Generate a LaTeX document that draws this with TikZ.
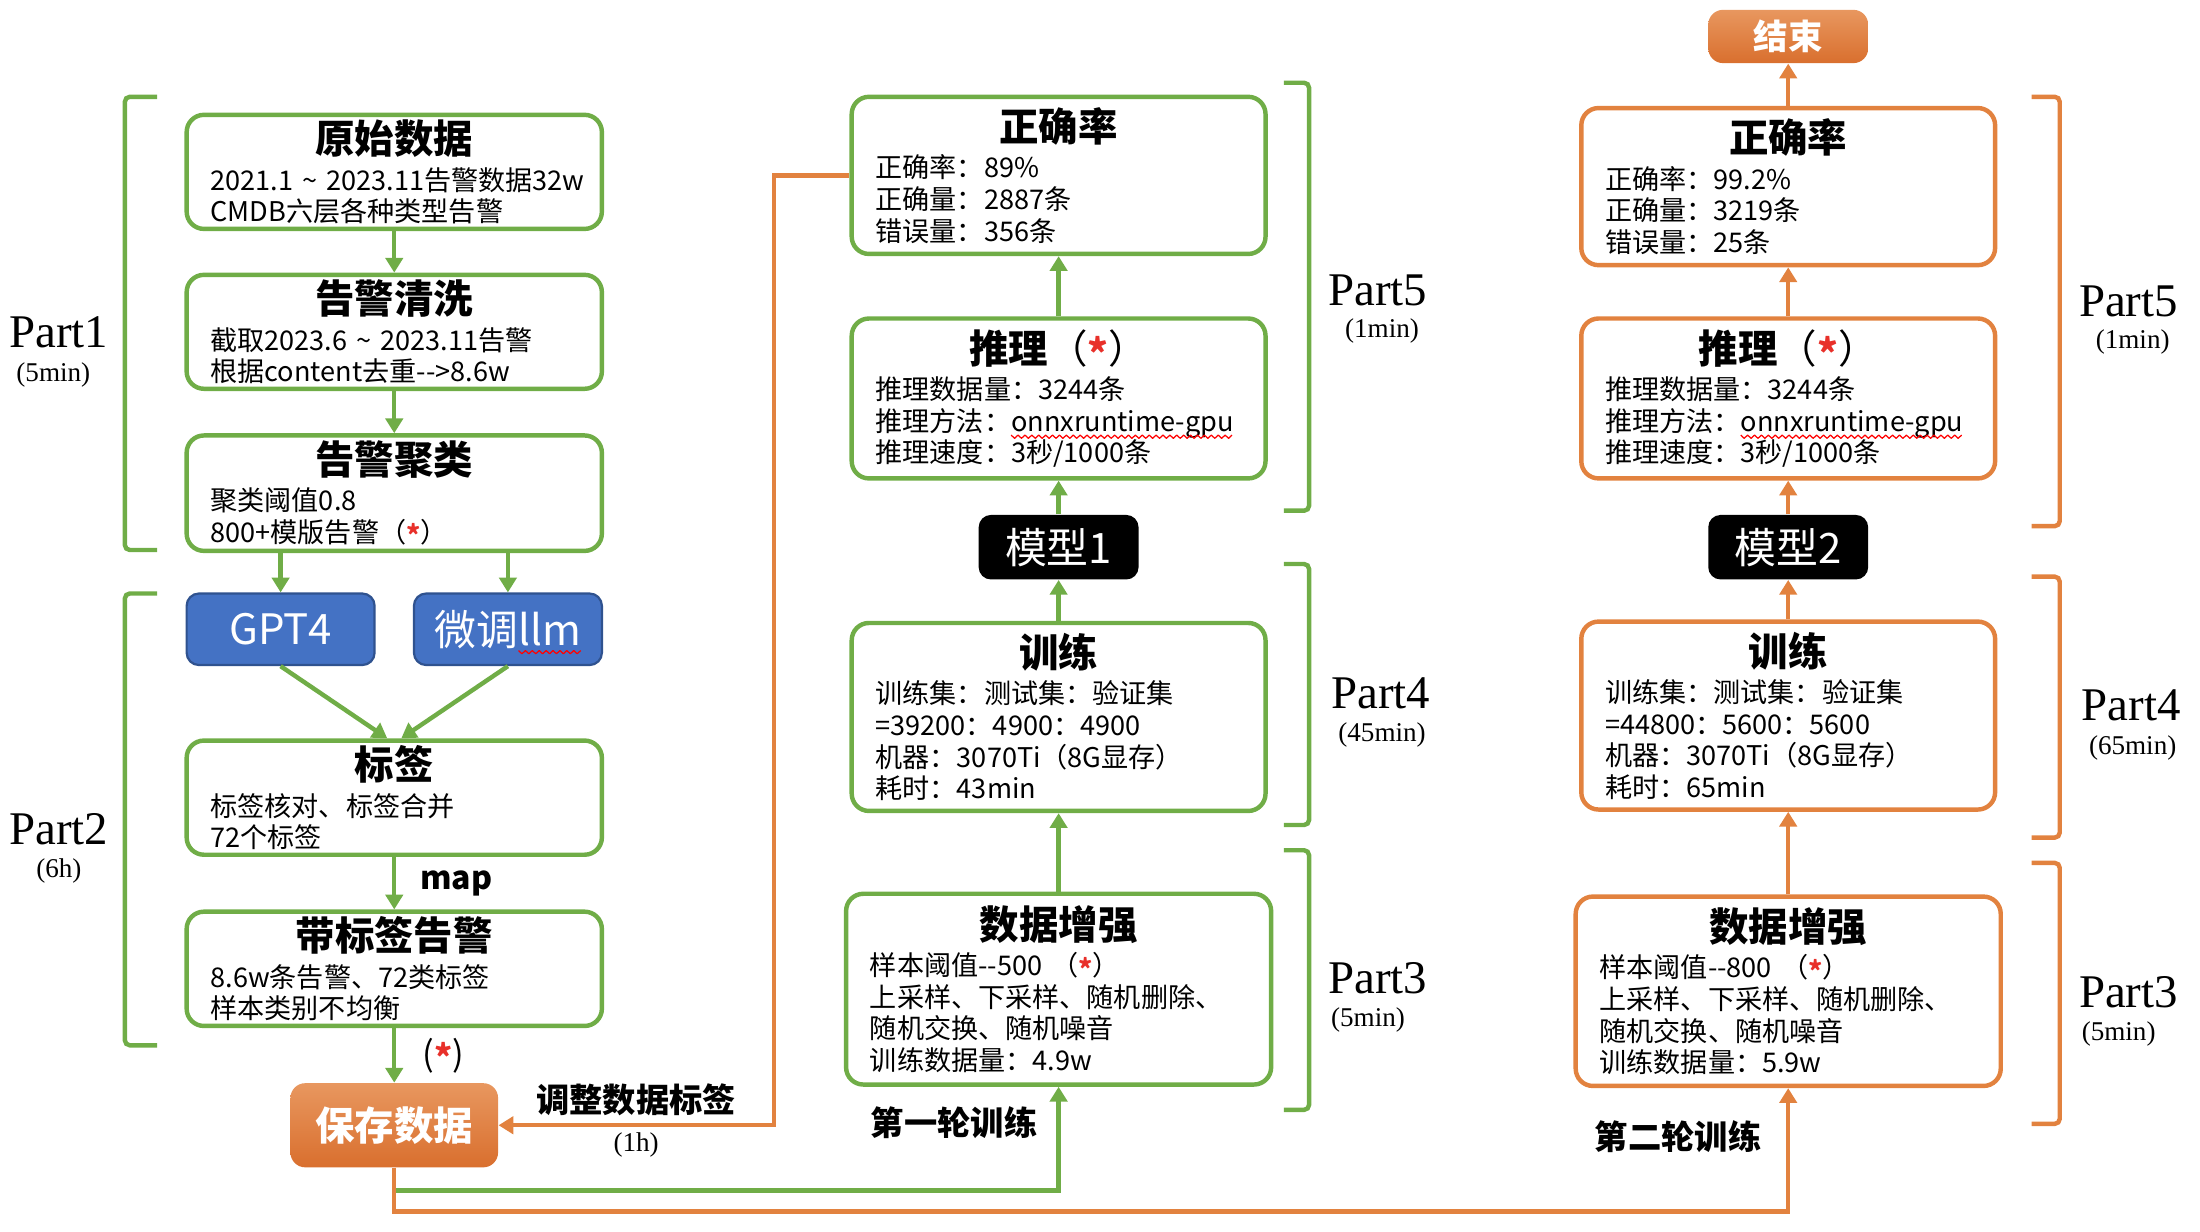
\documentclass[tikz,border=0pt]{standalone}
\usepackage{fontspec}
\setmainfont{Noto Sans CJK SC}
\newfontfamily\partfont{Liberation Serif}
\usepackage{xcolor}
\usetikzlibrary{arrows.meta, positioning}
\definecolor{greencol}{HTML}{70AD47}
\definecolor{orangecol}{HTML}{E2823F}
\definecolor{orangetop}{HTML}{E8975F}
\definecolor{orangebot}{HTML}{D96F2E}
\definecolor{bluecol}{HTML}{4472C4}
\definecolor{bluedark}{HTML}{2F528F}
\definecolor{starcol}{HTML}{E8302A}
\newcommand{\bodyfont}{\fontsize{11}{12.8}\selectfont}
\newcommand{\llmfont}{\fontsize{17}{20}\selectfont}
\newcommand{\boxtitle}[1]{\makebox[\linewidth]{\fontsize{16}{18}\selectfont\bfseries #1}}
\newcommand{\redstar}{\textcolor{starcol}{\raisebox{-0.25ex}{\bfseries *}}}
\newlength{\onnxpre}
\newlength{\onnxwd}
\newlength{\llmpre}
\newlength{\llmwd}

\begin{document}
\settowidth{\onnxpre}{\bodyfont 推理方法：}%
\settowidth{\onnxwd}{\bodyfont onnxruntime-gpu}%
\settowidth{\llmpre}{\llmfont 微调}%
\settowidth{\llmwd}{\llmfont llm}%
\begin{tikzpicture}[
    x=0.02cm, y=-0.02cm,
    box/.style={rectangle, rounded corners=7pt, line width=1.8pt, align=left,
                inner xsep=0.34cm, inner ysep=2pt, font=\bodyfont},
    greenbox/.style={box, draw=greencol},
    orangebox/.style={box, draw=orangecol},
    llmbox/.style={rectangle, rounded corners=5pt, fill=bluecol, draw=bluedark,
                   line width=0.9pt, text=white, font=\llmfont,
                   minimum width=2.68cm, minimum height=1.02cm},
    modelbox/.style={rectangle, rounded corners=5pt, fill=black, text=white,
                     font=\llmfont, minimum width=2.28cm, minimum height=0.92cm},
    endbox/.style={rectangle, rounded corners=6pt, top color=orangetop,
                   bottom color=orangebot, draw=none, text=white},
    arr/.style={-{Triangle[width=7pt, length=6pt]}, line width=1.8pt},
    greenarr/.style={arr, draw=greencol},
    orangearr/.style={arr, draw=orangecol},
    bracket/.style={line width=1.8pt, rounded corners=2pt},
    spell/.style={draw=red, line width=0.5pt, line join=round},
    partlabel/.style={font=\partfont\fontsize{19}{21}\selectfont},
    parttime/.style={font=\partfont\fontsize{11}{13}\selectfont},
    steplabel/.style={font=\fontsize{13.5}{16}\selectfont\bfseries},
]
\useasboundingbox (0,0) rectangle (1568,878);
\pgfmathtruncatemacro{\onnxn}{\onnxwd/2.8}
\pgfmathtruncatemacro{\llmn}{\llmwd/2.8}

% Part1 / Part2 : data preparation
\node[greenbox, text width=5.24cm, minimum height=1.62cm] (raw) at (281,122.5)
    {\boxtitle{原始数据}\\[2pt]
     \mbox{2021.1 \textasciitilde{} 2023.11告警数据32w}\\
     CMDB六层各种类型告警};
\node[greenbox, text width=5.24cm, minimum height=1.62cm] (clean) at (281,236.5)
    {\boxtitle{告警清洗}\\[2pt]
     截取2023.6 \textasciitilde{} 2023.11告警\\
     根据content去重-{}->8.6w};
\node[greenbox, text width=5.24cm, minimum height=1.62cm] (cluster) at (281,351.5)
    {\boxtitle{告警聚类}\\[2pt]
     聚类阈值0.8\\
     800+模版告警（\redstar）};

\node[llmbox] (gpt) at (200,448.5) {GPT4};
\node[llmbox] (llm) at (362,448.5) {微调llm};

\node[greenbox, text width=5.24cm, minimum height=1.62cm] (tag) at (281,568.5)
    {\boxtitle{标签}\\[2pt]
     标签核对、标签合并\\
     72个标签};
\node[greenbox, text width=5.24cm, minimum height=1.62cm] (tagged) at (281,690.5)
    {\boxtitle{带标签告警}\\[2pt]
     8.6w条告警、72类标签\\
     样本类别不均衡};

\node[endbox, minimum width=2.96cm, minimum height=1.2cm,
      font=\fontsize{16}{18}\selectfont\bfseries] (save) at (281,802) {保存数据};

% first round
\node[greenbox, text width=5.38cm, minimum height=2.72cm] (aug1) at (754.5,705)
    {\boxtitle{数据增强}\\[2pt]
     样本阈值-{}-500\ （\redstar）\\
     上采样、下采样、随机删除、\\
     随机交换、随机噪音\\
     训练数据量：4.9w};
\node[greenbox, text width=5.22cm, minimum height=2.68cm] (train1) at (754.5,511)
    {\boxtitle{训练}\\[2pt]
     训练集：测试集：验证集\\
     =39200：4900：4900\\
     机器：3070Ti（8G显存）\\
     耗时：43min};
\node[modelbox] (model1) at (754.5,390) {模型1};
\node[greenbox, text width=5.22cm, minimum height=2.28cm] (infer1) at (754.5,284)
    {\boxtitle{推理{\mdseries （\redstar）}}\\[2pt]
     推理数据量：3244条\\
     推理方法：onnxruntime-gpu\\
     推理速度：3秒/1000条};
\node[greenbox, text width=5.22cm, minimum height=2.24cm] (acc1) at (754.5,125)
    {\boxtitle{正确率}\\[2pt]
     正确率：89\%\\
     正确量：2887条\\
     错误量：356条};
\node[steplabel] (round1) at (680,800) {第一轮训练};

% second round
\node[orangebox, text width=5.38cm, minimum height=2.70cm] (aug2) at (1274.5,706.5)
    {\boxtitle{数据增强}\\[2pt]
     样本阈值-{}-800\ （\redstar）\\
     上采样、下采样、随机删除、\\
     随机交换、随机噪音\\
     训练数据量：5.9w};
\node[orangebox, text width=5.22cm, minimum height=2.68cm] (train2) at (1274.5,510)
    {\boxtitle{训练}\\[2pt]
     训练集：测试集：验证集\\
     =44800：5600：5600\\
     机器：3070Ti（8G显存）\\
     耗时：65min};
\node[modelbox] (model2) at (1274.5,390) {模型2};
\node[orangebox, text width=5.22cm, minimum height=2.28cm] (infer2) at (1274.5,284)
    {\boxtitle{推理{\mdseries （\redstar）}}\\[2pt]
     推理数据量：3244条\\
     推理方法：onnxruntime-gpu\\
     推理速度：3秒/1000条};
\node[orangebox, text width=5.22cm, minimum height=2.24cm] (acc2) at (1274.5,133)
    {\boxtitle{正确率}\\[2pt]
     正确率：99.2\%\\
     正确量：3219条\\
     错误量：25条};
\node[endbox, minimum width=2.28cm, minimum height=0.76cm,
      font=\fontsize{14}{16}\selectfont\bfseries] (end) at (1274.5,26) {结束};
\node[steplabel] (round2) at (1196,810) {第二轮训练};

% spelling marks
\draw[spell] ([xshift=0.9pt+0.34cm+\onnxpre, yshift=-29.2pt]infer1.base west)
    \foreach \k in {1,...,\onnxn} { -- ++(1.4pt,-1.3pt) -- ++(1.4pt,1.3pt) };
\draw[spell] ([xshift=0.9pt+0.34cm+\onnxpre, yshift=-29.2pt]infer2.base west)
    \foreach \k in {1,...,\onnxn} { -- ++(1.4pt,-1.3pt) -- ++(1.4pt,1.3pt) };
\draw[spell] ([xshift=0.5*\llmpre-0.5*\llmwd, yshift=-2.2pt]llm.base)
    \foreach \k in {1,...,\llmn} { -- ++(1.4pt,-1.3pt) -- ++(1.4pt,1.3pt) };

% Arrows
\draw[greenarr] (raw) -- (clean);
\draw[greenarr] (clean) -- (cluster);
\draw[greenarr] (cluster.south -| gpt) -- (gpt);
\draw[greenarr] (cluster.south -| llm) -- (llm);
\draw[greenarr] (gpt.south) -- ([xshift=-0.1cm]tag.north);
\draw[greenarr] (llm.south) -- ([xshift=0.1cm]tag.north);
\draw[greenarr] (tag) -- node[right=0.22cm, font=\fontsize{13}{15}\selectfont\bfseries]{map}
    (tagged);
\draw[greenarr] (tagged) -- node[right=0.26cm, font=\fontsize{14}{16}\selectfont]{(\redstar)}
    (save);

\draw[greenarr] (aug1) -- (train1);
\draw[greenarr] (train1) -- (model1);
\draw[greenarr] (model1) -- (infer1);
\draw[greenarr] (infer1) -- (acc1);

\draw[orangearr] (aug2) -- (train2);
\draw[orangearr] (train2) -- (model2);
\draw[orangearr] (model2) -- (infer2);
\draw[orangearr] (infer2) -- (acc2);
\draw[orangearr] (acc2) -- (end);

% feedback and the two rounds
\draw[orangearr] (acc1.west) -- ++(-54,0) |- node[pos=0.75, above=2pt, inner sep=1pt, steplabel]{调整数据标签}
    node[pos=0.75, below=1pt, inner sep=1pt, parttime]{(1h)} (save.east);
\draw[greenarr] (save.south) -- ++(0,16) -| (aug1.south);
\draw[orangearr] (save.south) -- ++(0,31) -| (aug2.south);

% Part brackets
\draw[bracket, greencol] (112,69) -- (89,69) -- (89,392) -- (112,392);
\draw[bracket, greencol] (112,423) -- (89,423) -- (89,745) -- (112,745);
\draw[bracket, greencol] (915,59) -- (933,59) -- (933,364) -- (915,364);
\draw[bracket, greencol] (915,402) -- (933,402) -- (933,588) -- (915,588);
\draw[bracket, greencol] (915,606) -- (933,606) -- (933,791) -- (915,791);
\draw[bracket, orangecol] (1448,69) -- (1468,69) -- (1468,375) -- (1448,375);
\draw[bracket, orangecol] (1448,411) -- (1468,411) -- (1468,597) -- (1448,597);
\draw[bracket, orangecol] (1448,615) -- (1468,615) -- (1468,801) -- (1448,801);

\node[partlabel] (part1) at (42,237) {Part1};
\node[parttime] (part1t) at (38,267) {(5min)};
\node[partlabel] (part2) at (42,591) {Part2};
\node[parttime] (part2t) at (42,621) {(6h)};
\node[partlabel] (part5a) at (982,207) {Part5};
\node[parttime] (part5at) at (985,236) {(1min)};
\node[partlabel] (part4a) at (984,494) {Part4};
\node[parttime] (part4at) at (985,524) {(45min)};
\node[partlabel] (part3a) at (982,697) {Part3};
\node[parttime] (part3at) at (975,727) {(5min)};
\node[partlabel] (part5b) at (1517,215) {Part5};
\node[parttime] (part5bt) at (1520,244) {(1min)};
\node[partlabel] (part4b) at (1519,503) {Part4};
\node[parttime] (part4bt) at (1520,533) {(65min)};
\node[partlabel] (part3b) at (1517,707) {Part3};
\node[parttime] (part3bt) at (1510,737) {(5min)};

\end{tikzpicture}
\end{document}
